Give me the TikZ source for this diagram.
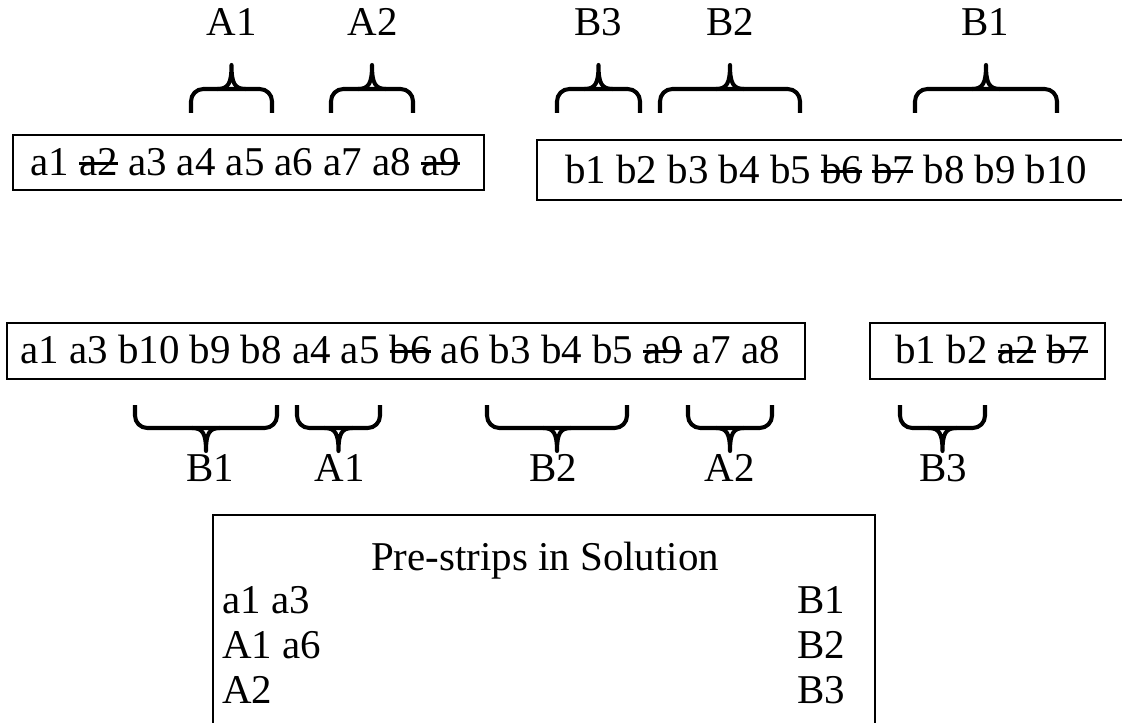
\documentclass[tikz,border=0pt]{standalone}
\usepackage{fontspec}
\setmainfont{Liberation Serif}
\usetikzlibrary{positioning}

% word with a line through it
\newsavebox{\strikebox}
\newcommand{\struck}[1]{\sbox{\strikebox}{#1}\rlap{\usebox{\strikebox}}\rule[0.24em]{\wd\strikebox}{1.6pt}}

% curly bracket, tip up: left x, right x, y of the leg ends
\newcommand{\braceup}[3]{%
  \draw[curly, rounded corners=7pt] (#1,#3) -- (#1,#3-24) -- (#2,#3-24) -- (#2,#3);
  \draw[curly] ({(#1+#2)/2-14},#3-24)
    .. controls ({(#1+#2)/2-3},#3-24) and ({(#1+#2)/2},#3-30) .. ({(#1+#2)/2},#3-48)
    .. controls ({(#1+#2)/2},#3-30) and ({(#1+#2)/2+3},#3-24) .. ({(#1+#2)/2+14},#3-24);}
% curly bracket, tip down: left x, right x, y of the leg ends
\newcommand{\bracedown}[3]{%
  \draw[curly, rounded corners=7pt] (#1,#3) -- (#1,#3+23) -- (#2,#3+23) -- (#2,#3);
  \draw[curly] ({(#1+#2)/2-14},#3+23)
    .. controls ({(#1+#2)/2-3},#3+23) and ({(#1+#2)/2},#3+29) .. ({(#1+#2)/2},#3+46)
    .. controls ({(#1+#2)/2},#3+29) and ({(#1+#2)/2+3},#3+23) .. ({(#1+#2)/2+14},#3+23);}

\tikzset{
  curly/.style={line width=2.3pt, line join=round},
  stripbox/.style={line width=1.6pt},
  word/.style={anchor=base west, inner sep=0pt},
  lbl/.style={anchor=base, inner sep=0pt}
}

\begin{document}
\begin{tikzpicture}[x=0.02cm, y=-0.02cm, font=\fontsize{23.3}{28}\selectfont]
  \useasboundingbox (0,0) rectangle (1122,723);
  \clip (0,0) rectangle (1122,723);

  % Pre-strips above the two strips
  \node[lbl] (tA1) at (232,36) {A1};
  \node[lbl] (tA2) at (373,36) {A2};
  \node[lbl] (tB3) at (598,36) {B3};
  \node[lbl] (tB2) at (730,36) {B2};
  \node[lbl] (tB1) at (985,36) {B1};
  \foreach \l/\r in {191/272, 331/413, 557/640, 660/800, 915/1057}
    {\braceup{\l}{\r}{113}}

  % Input strips
  \draw[stripbox] (13,135) rectangle (484,190);
  \node[word] (stripA) at (30,175)
    {a1 \struck{a2} a3 a4 a5 a6 a7 a8 \struck{a9}};
  \draw[stripbox] (537,140) rectangle (1140,200);
  \node[word] (stripB) at (565,183)
    {b1 b2 b3 b4 b5 \struck{b6} \struck{b7} b8 b9 b10};

  % Merged strips
  \draw[stripbox] (7,323) rectangle (805,379);
  \node[word] (merged) at (20,363)
    {a1 a3 b10 b9 b8 a4 a5 \struck{b6} a6 b3 b4 b5 \struck{a9} a7 a8};
  \draw[stripbox] (870,323) rectangle (1105,379);
  \node[word] (rest) at (895,363) {b1 b2 \struck{a2} \struck{b7}};

  % Pre-strips below the merged strips
  \foreach \l/\r in {135/277, 297/380, 487/627, 688/772, 900/985}
    {\bracedown{\l}{\r}{405}}
  \node[lbl] (bB1) at (210,481) {B1};
  \node[lbl] (bA1) at (340,481) {A1};
  \node[lbl] (bB2) at (553,481) {B2};
  \node[lbl] (bA2) at (730,481) {A2};
  \node[lbl] (bB3) at (943,481) {B3};

  % Solution table
  \draw[stripbox] (213,515) rectangle (875,760);
  \node[lbl] (title) at (545,570) {Pre-strips in Solution};
  \node[word] (row1) at (222,613) {a1 a3};
  \node[word] (row2) at (222,658) {A1 a6};
  \node[word] (row3) at (222,703) {A2};
  \node[word] (col1) at (797,613) {B1};
  \node[word] (col2) at (797,658) {B2};
  \node[word] (col3) at (797,703) {B3};
\end{tikzpicture}
\end{document}
